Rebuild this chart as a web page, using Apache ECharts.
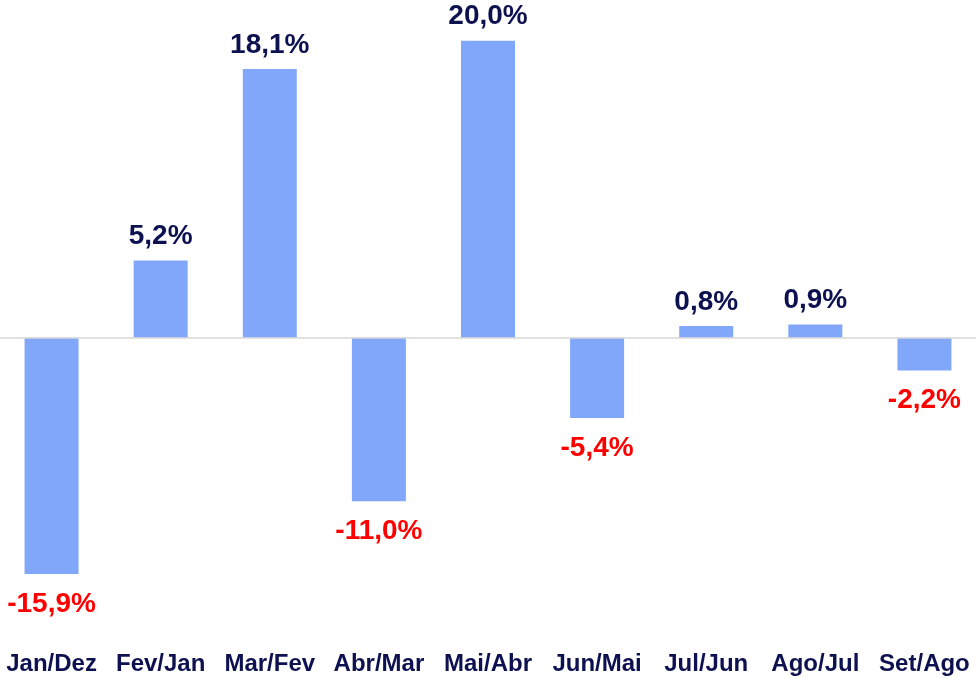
<!DOCTYPE html>
<html>
<head>
<meta charset="utf-8">
<script src="https://cdn.jsdelivr.net/npm/echarts@6/dist/echarts.min.js"></script>
<style>
  html, body { margin: 0; padding: 0; background: #fff; overflow: hidden; }
  #chart { width: 982px; height: 678px; position: absolute; left: -3px; top: 0; }
</style>
</head>
<body>
<div id="chart"></div>
<script>
// month-over-month variation, in %
const categories = ['Jan/Dez', 'Fev/Jan', 'Mar/Fev', 'Abr/Mar', 'Mai/Abr', 'Jun/Mai', 'Jul/Jun', 'Ago/Jul', 'Set/Ago'];
const values = [-15.9, 5.2, 18.1, -11.0, 20.0, -5.4, 0.8, 0.9, -2.2];

const fmt = v => v.toFixed(1).replace('.', ',') + '%';

const chart = echarts.init(document.getElementById('chart'));

chart.setOption({
  animation: false,
  grid: { left: 0, right: 0, top: 11, bottom: 43, containLabel: false },
  xAxis: {
    type: 'category',
    data: categories,
    axisLine: { show: false, onZero: false },
    axisTick: { show: false },
    axisLabel: {
      interval: 0,
      margin: 17,
      fontFamily: 'Liberation Sans, Arial, sans-serif',
      fontWeight: 'bold',
      fontSize: 24,
      color: '#0d1150'
    }
  },
  yAxis: {
    type: 'value',
    min: -20,
    max: 22,
    show: false,
    splitLine: { show: false }
  },
  series: [{
    type: 'bar',
    barWidth: 54,
    data: values.map(v => ({
      value: v,
      label: {
        position: v < 0 ? 'bottom' : 'top',
        distance: v < 0 ? 16 : 10,
        color: v < 0 ? '#ff0000' : '#0d1150'
      }
    })),
    itemStyle: { color: '#80a7f9' },
    label: {
      show: true,
      fontFamily: 'Liberation Sans, Arial, sans-serif',
      fontWeight: 'bold',
      fontSize: 28,
      formatter: p => fmt(p.value)
    },
    markLine: {
      silent: true,
      symbol: 'none',
      label: { show: false },
      lineStyle: { color: '#d9d9d9', width: 1.5, type: 'solid' },
      data: [{ yAxis: 0 }]
    }
  }]
});
</script>
</body>
</html>
